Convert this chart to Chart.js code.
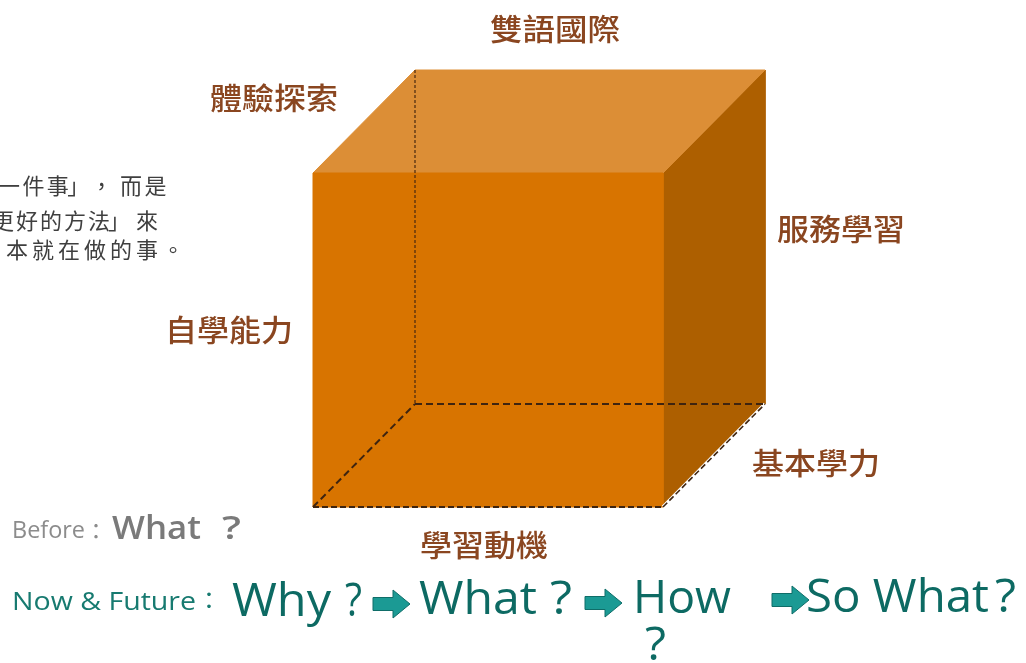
<!DOCTYPE html>
<html><head><meta charset="utf-8">
<script src="https://cdn.jsdelivr.net/npm/chart.js@4.4.1/dist/chart.umd.min.js"></script>
<style>
html,body{margin:0;padding:0;background:#fff;overflow:hidden}
#wrap{width:1026px;height:663px;position:relative}
</style>
</head><body>
<div id="wrap"><canvas id="c" width="1026" height="663"></canvas></div>
<script>
// ---- data (diagram units: the axes span the picture) ----
const frontX = [313, 663];          // front face left / right
const frontY = [173, 507];          // front face top / bottom
const depth = [102, -103];          // receding offset of the back face
const cubeLabels = ['雙語國際', '體驗探索', '服務學習', '自學能力', '基本學力', '學習動機'];
const noteLines = ['一件事」，而是', '更好的方法」來', '本就在做的事。'];
const beforeWords = ['Before', 'What ?'];
const nowWords = ['Now & Future', 'Why ?', 'What ?', 'How ?', 'So What ?'];
const arrowAnchors = [[373, 604], [585, 603], [772, 600]];

// ---- layout ----
const labelPos = [[555, 29, 130], [274, 98, 128], [841, 229, 128], [229, 330, 128], [816, 463, 128], [484, 545, 128]];
const BROWN = '#8a4620';

const [x0, x1] = frontX, [y0, y1] = frontY, [dx, dy] = depth;
const P = (x, y) => ({x, y});
const poly = pts => pts.concat([pts[0]]).map(p => P(p[0], p[1]));

const frontFace = poly([[x0,y0],[x1,y0],[x1,y1],[x0,y1]]);
const topFace = poly([[x0,y0],[x0+dx,y0+dy],[x1+dx,y0+dy],[x1,y0]]);
const sideFace = poly([[x1,y0],[x1+dx,y0+dy],[x1+dx,y1+dy],[x1,y1]]);

function arrowShape(a){
  const [L, C] = a;
  return poly([[L,C-6.5],[L+20,C-6.5],[L+20,C-14],[L+37,C],[L+20,C+14],[L+20,C+6.5],[L,C+6.5]]);
}

const face = (data, color, order, border) => ({data, showLine:true, fill:'shape', backgroundColor:color,
  borderColor:border || color, borderWidth:1, pointRadius:0, tension:0, order});
const edge = (data, color, width, dash, order) => ({data, showLine:true, fill:false, borderColor:color,
  borderWidth:width, borderDash:dash, pointRadius:0, tension:0, order});

const datasets = [
  face(frontFace, '#d87400', 10),
  face(topFace, '#dc8e36', 10),
  face(sideFace, '#ad5f00', 10),
  edge([P(x0+dx,y0+dy), P(x0+dx,y1+dy)], '#4a2810', 1.2, [3,2], 5),
  edge([P(x0+dx,y1+dy), P(x1+dx,y1+dy)], '#3e2410', 2, [7,4], 5),
  edge([P(x0,y1), P(x0+dx,y1+dy)], '#3e2410', 2, [7,4], 5),
  edge([P(x0,y1), P(x1,y1)], '#3e2410', 2, [6,3], 5),
  edge([P(x1,y1), P(x1+dx,y1+dy)], '#ffffff', 3.5, [], 6),
  edge([P(x1,y1), P(x1+dx,y1+dy)], '#3e2410', 1.6, [6,3], 5),
];
arrowAnchors.forEach(a => datasets.push(face(arrowShape(a), '#1b9a94', 3, '#0f6d68')));

function fitText(ctx, text, x, y, font, color, width, align){
  ctx.save();
  ctx.font = font; ctx.fillStyle = color; ctx.textBaseline = 'alphabetic';
  const w = ctx.measureText(text).width;
  const s = width ? width / w : 1;
  ctx.translate(x, y); ctx.scale(s, 1);
  ctx.textAlign = align || 'left';
  ctx.fillText(text, 0, 0);
  ctx.restore();
}

const textPlugin = {
  id: 'texts',
  afterDatasetsDraw(chart){
    const ctx = chart.ctx, xs = chart.scales.x, ys = chart.scales.y;
    const X = v => xs.getPixelForValue(v), Y = v => ys.getPixelForValue(v);
    // cube labels
    cubeLabels.forEach((t, i) => {
      const [cx, cy, w] = labelPos[i];
      ctx.save();
      ctx.font = "500 30px 'Noto Sans CJK TC'";
      ctx.fillStyle = BROWN; ctx.textAlign = 'center'; ctx.textBaseline = 'middle';
      const mw = ctx.measureText(t).width;
      ctx.translate(X(cx), Y(cy)); ctx.scale(w / mw, 1);
      ctx.fillText(t, 0, 0);
      ctx.restore();
    });
    // note lines (cut at the left edge)
    const noteStart = [[-2, 186, 24.4], [-8, 221, 24], [6, 250, 26]];
    ctx.save();
    ctx.font = "400 22px 'Noto Sans CJK TC'";
    ctx.fillStyle = '#3f3f3f'; ctx.textBaseline = 'middle'; ctx.textAlign = 'left';
    noteLines.forEach((line, i) => {
      const [sx, sy, pitch] = noteStart[i];
      [...line].forEach((ch, k) => {
        const off = (ch === '」') ? -4 : (ch === '，' ? -5 : 0);
        ctx.fillText(ch, X(sx + k * pitch + off), Y(sy));
      });
    });
    ctx.restore();
    // Before : What ?
    fitText(ctx, beforeWords[0], X(12), Y(538), "400 24px 'Open Sans'", '#8c8c8c', 73);
    ctx.save(); ctx.font = "400 22px 'Noto Sans CJK TC'"; ctx.fillStyle = '#8c8c8c';
    ctx.textAlign = 'center'; ctx.textBaseline = 'middle'; ctx.fillText('：', X(96), Y(531)); ctx.restore();
    fitText(ctx, 'What', X(112), Y(539), "600 33px 'Open Sans'", '#7a7a7a', 89);
    fitText(ctx, '?', X(222), Y(539), "600 33px 'Open Sans'", '#7a7a7a', 19);
    // Now & Future : ...
    const TEAL = '#0d6a63';
    fitText(ctx, nowWords[0], X(12), Y(610), "400 26px 'Open Sans'", '#177a70', 184);
    ctx.save(); ctx.font = "400 24px 'Noto Sans CJK TC'"; ctx.fillStyle = '#177a70';
    ctx.textAlign = 'center'; ctx.textBaseline = 'middle'; ctx.fillText('：', X(209), Y(600)); ctx.restore();
    const big = "500 46px 'Open Sans'";
    fitText(ctx, 'Why', X(232), Y(616), big, TEAL, 99);
    fitText(ctx, '?', X(345), Y(616), big, TEAL, 17);
    fitText(ctx, 'What', X(419), Y(614), big, TEAL, 118);
    fitText(ctx, '?', X(550), Y(614), big, TEAL, 22);
    fitText(ctx, 'How', X(633), Y(613), big, TEAL, 98);
    fitText(ctx, '?', X(645), Y(660), big, TEAL, 21);
    fitText(ctx, 'So What', X(806), Y(612), big, TEAL, 183);
    fitText(ctx, '?', X(995), Y(612), big, TEAL, 21);
  }
};

new Chart(document.getElementById('c'), {
  type: 'scatter',
  data: { datasets },
  options: {
    responsive: false, animation: false, devicePixelRatio: 1,
    layout: { padding: 0 },
    plugins: { legend: { display: false }, tooltip: { enabled: false } },
    scales: {
      x: { type: 'linear', min: 0, max: 1026, display: false },
      y: { type: 'linear', min: 0, max: 663, reverse: true, display: false }
    },
    events: []
  },
  plugins: [textPlugin]
});
</script>
</body></html>
